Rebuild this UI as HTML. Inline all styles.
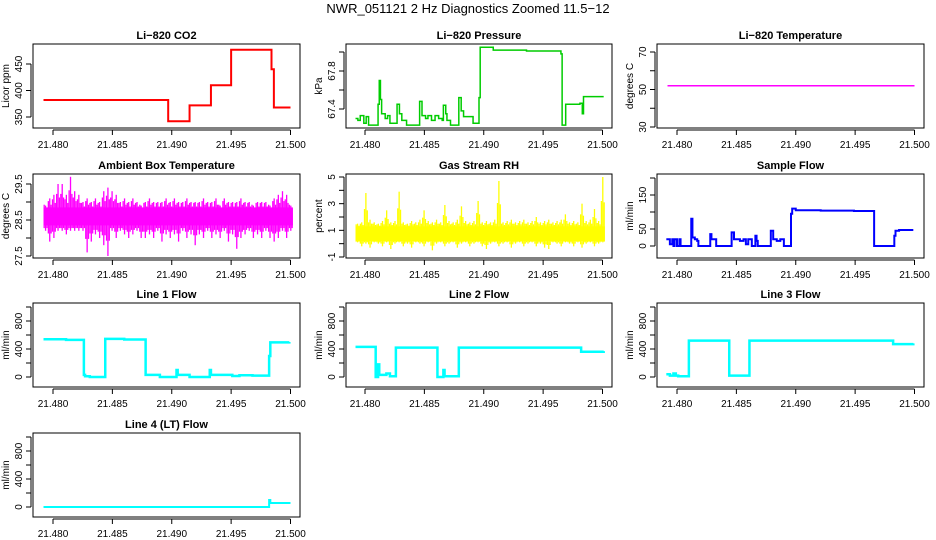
<!DOCTYPE html>
<html><head><meta charset="utf-8"><style>
body{margin:0;background:#fff}
svg{display:block;font-family:"Liberation Sans",sans-serif}
</style></head><body>
<svg id="c" width="936" height="540" viewBox="0 0 936 540">
<text x="468" y="13" text-anchor="middle" font-size="13">NWR_051121  2 Hz Diagnostics Zoomed 11.5−12</text>
</svg>
<script>
// ---- data ----
const co2X=[21.4792,21.4897,21.4915,21.4933,21.4950,21.4984,21.4986,21.5000];
const co2Y=[382,342,372,410,477,440,368,368];
const presX=[21.4792,21.4794,21.4796,21.4799,21.4801,21.4803,21.4811,21.4812,21.4813,21.4814,21.4817,21.4819,21.4821,21.4827,21.4829,21.4831,21.4835,21.4846,21.4848,21.4851,21.4853,21.4856,21.4859,21.4862,21.4865,21.4866,21.4868,21.4869,21.4872,21.4879,21.4881,21.4883,21.4891,21.4896,21.4897,21.4908,21.4936,21.4965,21.4966,21.4969,21.4981,21.4983,21.4984,21.5001];
const presY=[67.30,67.28,67.33,67.25,67.32,67.23,67.45,67.70,67.50,67.35,67.30,67.33,67.25,67.45,67.35,67.28,67.23,67.48,67.33,67.30,67.33,67.28,67.33,67.30,67.28,67.44,67.35,67.28,67.23,67.52,67.38,67.32,67.25,67.52,68.05,68.02,68.01,67.98,67.23,67.45,67.46,67.35,67.53,67.53];
const tempX=[21.4792,21.5000];
const tempY=[52,52];
const binStart=21.4792, binWidth=0.00035;
const ambHi=[28.9,29.1,29.2,29.5,29.5,29.2,29.7,29.3,29.2,29.0,29.1,29.0,29.1,29.0,29.3,29.4,29.3,29.2,29.0,29.1,29.0,29.1,29.0,28.9,29.0,29.1,29.0,29.0,29.0,29.1,29.0,29.1,29.0,29.0,29.1,29.0,29.0,29.0,29.1,29.0,29.0,29.1,28.9,29.1,29.0,29.0,29.0,29.1,29.0,29.0,28.9,29.0,29.0,29.0,28.9,29.1,29.2,29.3,29.2,28.9];
const ambLo=[28.2,27.9,28.0,28.2,28.2,28.1,28.2,28.2,28.2,28.2,27.6,27.9,28.1,28.0,27.8,27.5,28.2,28.0,28.2,28.1,28.0,28.1,28.2,28.0,28.0,28.1,28.0,28.2,27.9,28.1,28.0,28.1,27.9,28.2,28.0,28.1,27.8,28.1,28.0,28.2,28.0,28.1,28.0,28.2,27.9,28.1,27.7,28.0,28.1,28.2,28.0,28.1,28.0,28.2,28.0,27.9,28.0,28.2,28.0,28.2];
const ambCore=[28.35,28.85];
const rhHi=[1.5,1.6,3.8,1.8,1.6,1.5,1.7,2.5,1.6,1.7,3.9,1.6,1.5,1.7,1.6,1.8,2.5,1.7,1.6,1.8,1.6,2.9,1.7,1.6,1.8,2.8,1.7,1.6,1.7,3.2,1.6,1.7,1.6,1.8,4.7,1.6,1.7,1.8,1.6,1.7,1.8,1.6,1.7,2.0,1.6,1.7,1.8,1.6,1.7,1.8,2.2,1.6,1.7,1.6,3.0,1.7,1.8,2.6,1.7,5.0];
const rhLo=[0.1,-0.2,0.0,-0.3,0.1,0.0,-0.2,0.1,-0.4,0.0,0.1,-0.2,0.0,-0.3,0.1,0.0,-0.2,0.1,-0.5,0.0,0.1,-0.2,0.0,0.1,-0.3,0.0,0.1,-0.2,0.0,0.1,-0.2,-0.4,0.0,0.1,-0.2,0.0,0.1,-0.3,0.0,0.1,-0.2,0.0,0.1,-0.2,0.0,-0.3,-0.4,0.1,0.0,-0.2,0.1,0.0,-0.2,0.1,-0.3,0.0,0.1,-0.2,0.0,0.1];
const rhCore=[0.2,1.3];
const sfX=[21.4791,21.4794,21.4796,21.4797,21.4798,21.4800,21.4802,21.4803,21.4812,21.4813,21.4815,21.4817,21.4818,21.4828,21.4829,21.4833,21.4846,21.4848,21.4853,21.4856,21.4858,21.4860,21.4863,21.4866,21.4867,21.4868,21.4879,21.4881,21.4884,21.4887,21.4890,21.4896,21.4897,21.4900,21.4921,21.4949,21.4966,21.4983,21.4984,21.4987,21.4999];
const sfY=[20,5,20,0,20,0,20,0,80,25,20,15,0,35,20,0,40,20,15,20,5,20,0,30,15,0,45,20,15,20,0,95,110,105,104,103,0,30,45,47,47];
const l1X=[21.4792,21.4811,21.4826,21.4827,21.4831,21.4844,21.4860,21.4878,21.4890,21.4904,21.4905,21.4915,21.4932,21.4933,21.4951,21.4957,21.4968,21.4982,21.4983,21.4999];
const l1Y=[540,530,30,10,0,545,535,30,0,100,30,0,100,30,15,25,20,300,495,500];
const l2X=[21.4792,21.4809,21.4811,21.4812,21.4818,21.4821,21.4826,21.4861,21.4866,21.4867,21.4879,21.4982,21.5001];
const l2Y=[430,0,180,30,50,10,420,0,100,10,420,360,370];
const l3X=[21.4791,21.4794,21.4797,21.4799,21.4801,21.4810,21.4844,21.4861,21.4982,21.4999];
const l3Y=[40,20,50,20,10,520,20,520,470,480];
const l4X=[21.4792,21.4982,21.4983,21.5000];
const l4Y=[0,100,57,57];
const xTicks=[21.480,21.485,21.490,21.495,21.500];
const xTickLabels=["21.480","21.485","21.490","21.495","21.500"];

// ---- layout ----
const NS="http://www.w3.org/2000/svg";
const svg=document.getElementById('c');
const colL=[33,346,657], colR=[300,612,924], colT0=[53,365,677];
const rowT=[44,174,303,433];
function el(tag,attrs,parent){const e=document.createElementNS(NS,tag);for(const k in attrs)e.setAttribute(k,attrs[k]);(parent||svg).appendChild(e);return e;}

function panel(p){
  const g=el('g',{});
  
  
  const L=colL[p.col],R=colR[p.col],T=rowT[p.row],B=T+84;
  const xs=t=>colT0[p.col]+(t-21.48)*237.5/0.02;
  const ys=v=>p.y1+(v-p.v1)*(p.y2-p.y1)/(p.v2-p.v1);
  const box=el('rect',{x:L,y:T,width:R-L,height:B-T,fill:'none',stroke:'#000','stroke-width':1},g);
  
  
  const tt=el('text',{x:(L+R)/2,y:T-5,'text-anchor':'middle','font-size':11,'font-weight':'bold'},g);
  tt.textContent=p.title;
  
  
  el('line',{x1:xs(xTicks[0]),x2:xs(xTicks[4]),y1:B+2,y2:B+2,stroke:'#000'},g);
  xTicks.forEach((t,i)=>{
    el('line',{x1:xs(t),x2:xs(t),y1:B+2,y2:B+7,stroke:'#000'},g);
    const lb=el('text',{x:xs(t),y:B+20,'text-anchor':'middle','font-size':10},g);
    lb.textContent=xTickLabels[i];
    
    
  });
  el('line',{x1:L-2,x2:L-2,y1:ys(p.ticks[0]),y2:ys(p.ticks[p.ticks.length-1]),stroke:'#000'},g);
  p.ticks.forEach(v=>{
    const y=ys(v);
    el('line',{x1:L-7,x2:L-2,y1:y,y2:y,stroke:'#000'},g);
    if(p.labels.includes(v)){
      const lb=el('text',{x:L-11,y:y,'text-anchor':'middle','font-size':10,transform:`rotate(-90 ${L-11} ${y})`},g);
      lb.textContent=String(v);
      
      
    }
  });
  const yl=el('text',{x:L-24,y:(T+B)/2,'text-anchor':'middle','font-size':10,transform:`rotate(-90 ${L-24} ${(T+B)/2})`},g);
  yl.textContent=p.ylabel;
  
  
  if(p.X){
    let d='';
    for(let i=0;i<p.X.length;i++){
      const x=xs(p.X[i]),y=ys(p.Y[i]);
      d+=(i===0?`M${x},${y}`:`V${y}`);
      if(i<p.X.length-1)d+=`H${xs(p.X[i+1])}`;
    }
    const path=el('path',{d:d,fill:'none',stroke:p.color,'stroke-width':p.sw||2},g);
    
    
  } else {
    const n=Math.min(p.lo.length,p.hi.length);
    const xa=xs(binStart), xb=xs(binStart+n*binWidth);
    const core=el('rect',{x:xa,y:ys(p.core[1]),width:xb-xa,height:ys(p.core[0])-ys(p.core[1]),fill:p.color},g);
    
    
    for(let i=0;i<n;i++){
      const x0=xs(binStart+i*binWidth),x1=xs(binStart+(i+1)*binWidth);
      for(let k=0;k<3;k++){
        const x=x0+(x1-x0)*(k+0.5)/3;
        const hi=k===1?p.hi[i]:(p.hi[i]+p.core[1])/2+(k===0?0.05:-0.05);
        const lo=k===1?p.lo[i]:(p.lo[i]+p.core[0])/2;
        const ln=el('line',{x1:x,x2:x,y1:ys(hi),y2:ys(lo),stroke:p.color,'stroke-width':1.3},g);
        
        
      }
    }
  }
}
panel({name:'co2-panel',col:0,row:0,title:'Li−820 CO2',ylabel:'Licor ppm',v1:450,y1:64,v2:350,y2:117,ticks:[350,400,450],labels:[350,400,450],X:co2X,Y:co2Y,color:'#ff0000'});
panel({name:'pressure-panel',col:1,row:0,title:'Li−820 Pressure',ylabel:'kPa',v1:67.8,y1:71,v2:67.4,y2:109,ticks:[67.4,67.6,67.8,68.0],labels:[67.4,67.8],X:presX,Y:presY,color:'#00cc00',sw:1.5});
panel({name:'li820-temperature-panel',col:2,row:0,title:'Li−820 Temperature',ylabel:'degrees C',v1:70,y1:52,v2:30,y2:127,ticks:[30,40,50,60,70],labels:[30,50,70],X:tempX,Y:tempY,color:'#ff00ff',sw:1.5});
panel({name:'ambient-temperature-panel',col:0,row:1,title:'Ambient Box Temperature',ylabel:'degrees C',v1:29.5,y1:184,v2:27.5,y2:256,ticks:[27.5,28,28.5,29,29.5],labels:[27.5,28.5,29.5],lo:ambLo,hi:ambHi,core:ambCore,color:'#ff00ff'});
panel({name:'gas-rh-panel',col:1,row:1,title:'Gas Stream RH',ylabel:'percent',v1:5,y1:177,v2:-1,y2:257,ticks:[-1,0,1,2,3,4,5],labels:[-1,1,3,5],lo:rhLo,hi:rhHi,core:rhCore,color:'#ffff00'});
panel({name:'sample-flow-panel',col:2,row:1,title:'Sample Flow',ylabel:'ml/min',v1:150,y1:195,v2:0,y2:246,ticks:[0,50,100,150,200],labels:[0,50,150],X:sfX,Y:sfY,color:'#0000ff'});
panel({name:'line1-flow-panel',col:0,row:2,title:'Line 1 Flow',ylabel:'ml/min',v1:800,y1:321,v2:0,y2:377,ticks:[0,200,400,600,800,1000],labels:[0,400,800],X:l1X,Y:l1Y,color:'#00ffff',sw:2.5});
panel({name:'line2-flow-panel',col:1,row:2,title:'Line 2 Flow',ylabel:'ml/min',v1:800,y1:321,v2:0,y2:377,ticks:[0,200,400,600,800,1000],labels:[0,400,800],X:l2X,Y:l2Y,color:'#00ffff',sw:2.5});
panel({name:'line3-flow-panel',col:2,row:2,title:'Line 3 Flow',ylabel:'ml/min',v1:800,y1:321,v2:0,y2:377,ticks:[0,200,400,600,800,1000],labels:[0,400,800],X:l3X,Y:l3Y,color:'#00ffff',sw:2.5});
panel({name:'line4-flow-panel',col:0,row:3,title:'Line 4 (LT) Flow',ylabel:'ml/min',v1:800,y1:451,v2:0,y2:507,ticks:[0,200,400,600,800,1000],labels:[0,400,800],X:l4X,Y:l4Y,color:'#00ffff',sw:2});
</script>
</body></html>
